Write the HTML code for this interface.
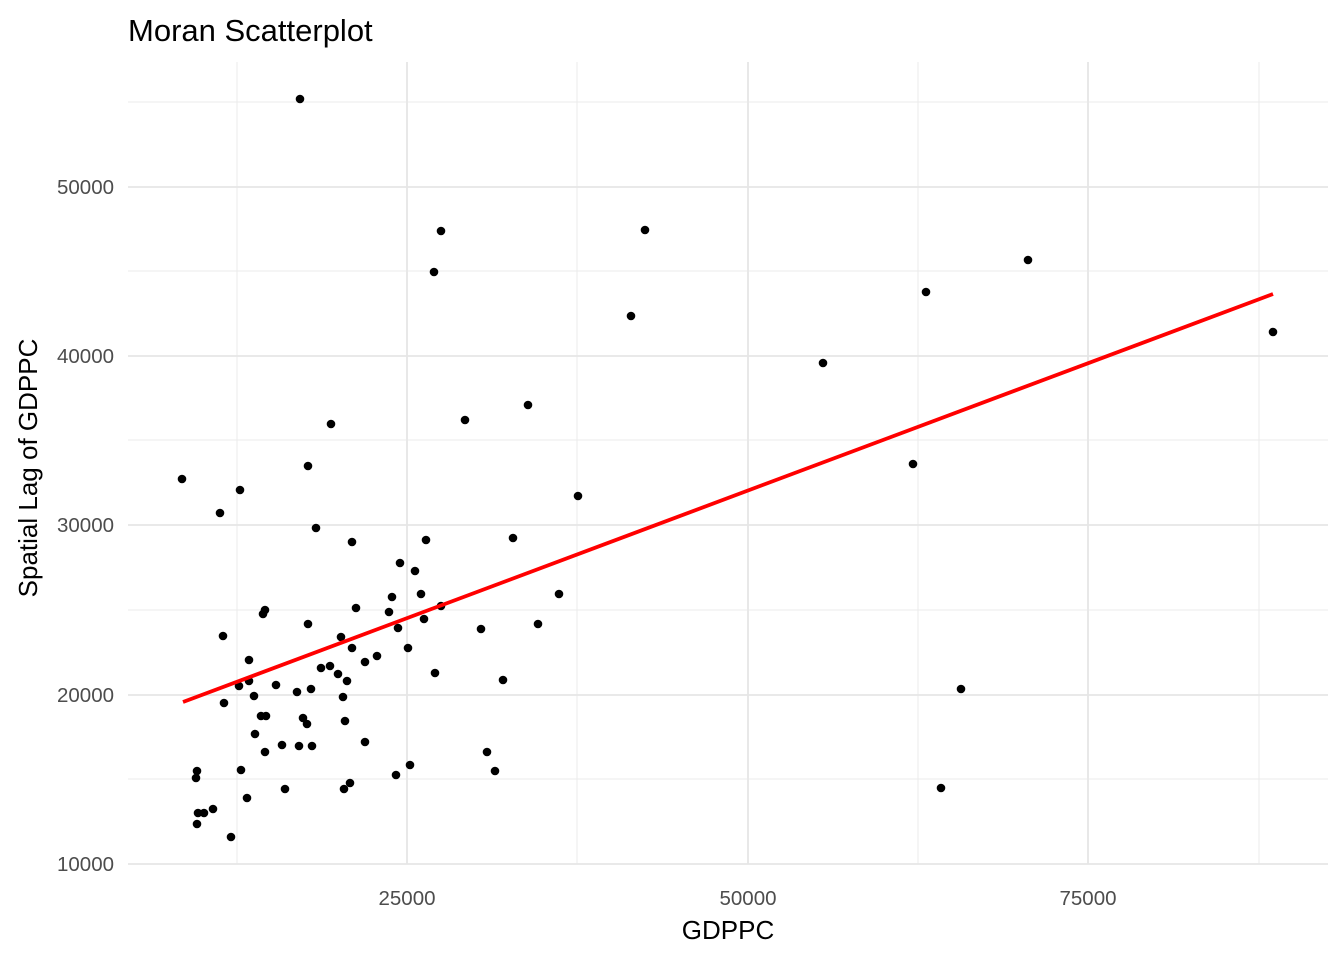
<!DOCTYPE html>
<html><head><meta charset="utf-8"><style>
body{margin:0;background:#fff}
svg{display:block;font-family:"Liberation Sans",sans-serif}
</style></head><body>
<svg width="1344" height="960" xmlns="http://www.w3.org/2000/svg">
<rect width="1344" height="960" fill="#fff"/>
<g stroke="#ebebeb" stroke-width="1">
<line x1="237" x2="237" y1="62" y2="864"/><line x1="577" x2="577" y1="62" y2="864"/>
<line x1="918" x2="918" y1="62" y2="864"/><line x1="1259" x2="1259" y1="62" y2="864"/>
<line x1="128" x2="1328" y1="102" y2="102"/><line x1="128" x2="1328" y1="271" y2="271"/>
<line x1="128" x2="1328" y1="440" y2="440"/><line x1="128" x2="1328" y1="610" y2="610"/>
<line x1="128" x2="1328" y1="779" y2="779"/>
</g>
<g stroke="#e6e6e6" stroke-width="1.8">
<line x1="407" x2="407" y1="62" y2="864"/><line x1="748" x2="748" y1="62" y2="864"/>
<line x1="1088" x2="1088" y1="62" y2="864"/>
<line x1="128" x2="1328" y1="187" y2="187"/><line x1="128" x2="1328" y1="356" y2="356"/>
<line x1="128" x2="1328" y1="525" y2="525"/><line x1="128" x2="1328" y1="695" y2="695"/>
<line x1="128" x2="1328" y1="864" y2="864"/>
</g>
<g fill="#000">
<circle cx="300" cy="99" r="4.3"/><circle cx="182" cy="479" r="4.3"/><circle cx="240" cy="490" r="4.3"/><circle cx="220" cy="513" r="4.3"/><circle cx="331" cy="424" r="4.3"/><circle cx="308" cy="466" r="4.3"/><circle cx="316" cy="528" r="4.3"/><circle cx="441" cy="231" r="4.3"/><circle cx="434" cy="272" r="4.3"/><circle cx="645" cy="230" r="4.3"/><circle cx="631" cy="316" r="4.3"/><circle cx="1028" cy="260" r="4.3"/><circle cx="926" cy="292" r="4.3"/><circle cx="1273" cy="332" r="4.3"/><circle cx="823" cy="363" r="4.3"/><circle cx="913" cy="464" r="4.3"/><circle cx="961" cy="689" r="4.3"/><circle cx="941" cy="788" r="4.3"/><circle cx="465" cy="420" r="4.3"/><circle cx="528" cy="405" r="4.3"/><circle cx="578" cy="496" r="4.3"/><circle cx="513" cy="538" r="4.3"/><circle cx="559" cy="594" r="4.3"/><circle cx="538" cy="624" r="4.3"/><circle cx="481" cy="629" r="4.3"/><circle cx="503" cy="680" r="4.3"/><circle cx="487" cy="752" r="4.3"/><circle cx="495" cy="771" r="4.3"/><circle cx="352" cy="542" r="4.3"/><circle cx="356" cy="608" r="4.3"/><circle cx="400" cy="563" r="4.3"/><circle cx="415" cy="571" r="4.3"/><circle cx="426" cy="540" r="4.3"/><circle cx="421" cy="594" r="4.3"/><circle cx="424" cy="619" r="4.3"/><circle cx="441" cy="606" r="4.3"/><circle cx="389" cy="612" r="4.3"/><circle cx="392" cy="597" r="4.3"/><circle cx="398" cy="628" r="4.3"/><circle cx="408" cy="648" r="4.3"/><circle cx="435" cy="673" r="4.3"/><circle cx="410" cy="765" r="4.3"/><circle cx="396" cy="775" r="4.3"/><circle cx="377" cy="656" r="4.3"/><circle cx="365" cy="662" r="4.3"/><circle cx="365" cy="742" r="4.3"/><circle cx="350" cy="783" r="4.3"/><circle cx="344" cy="789" r="4.3"/><circle cx="345" cy="721" r="4.3"/><circle cx="347" cy="681" r="4.3"/><circle cx="352" cy="648" r="4.3"/><circle cx="338" cy="674" r="4.3"/><circle cx="341" cy="637" r="4.3"/><circle cx="343" cy="697" r="4.3"/><circle cx="330" cy="666" r="4.3"/><circle cx="321" cy="668" r="4.3"/><circle cx="311" cy="689" r="4.3"/><circle cx="308" cy="624" r="4.3"/><circle cx="312" cy="746" r="4.3"/><circle cx="297" cy="692" r="4.3"/><circle cx="299" cy="746" r="4.3"/><circle cx="303" cy="718" r="4.3"/><circle cx="307" cy="724" r="4.3"/><circle cx="285" cy="789" r="4.3"/><circle cx="282" cy="745" r="4.3"/><circle cx="276" cy="685" r="4.3"/><circle cx="263" cy="614" r="4.3"/><circle cx="265" cy="610" r="4.3"/><circle cx="265" cy="752" r="4.3"/><circle cx="261" cy="716" r="4.3"/><circle cx="266" cy="716" r="4.3"/><circle cx="255" cy="734" r="4.3"/><circle cx="254" cy="696" r="4.3"/><circle cx="249" cy="660" r="4.3"/><circle cx="249" cy="681" r="4.3"/><circle cx="239" cy="686" r="4.3"/><circle cx="241" cy="770" r="4.3"/><circle cx="247" cy="798" r="4.3"/><circle cx="223" cy="636" r="4.3"/><circle cx="224" cy="703" r="4.3"/><circle cx="231" cy="837" r="4.3"/><circle cx="213" cy="809" r="4.3"/><circle cx="204" cy="813" r="4.3"/><circle cx="198" cy="813" r="4.3"/><circle cx="197" cy="771" r="4.3"/><circle cx="196" cy="778" r="4.3"/><circle cx="197" cy="824" r="4.3"/>
</g>
<line x1="183" y1="702" x2="1273" y2="294" stroke="#ff0000" stroke-width="3.8"/>
<g fill="#4d4d4d" font-size="20.5" text-anchor="end">
<text x="114" y="194">50000</text><text x="114" y="363">40000</text><text x="114" y="532">30000</text><text x="114" y="702">20000</text><text x="114" y="871">10000</text>
</g>
<g fill="#4d4d4d" font-size="20.5" text-anchor="middle">
<text x="407" y="905">25000</text><text x="748" y="905">50000</text><text x="1088" y="905">75000</text>
</g>
<text x="728" y="939" font-size="26" text-anchor="middle" fill="#000">GDPPC</text>
<text transform="translate(37,468) rotate(-90)" font-size="26" text-anchor="middle" fill="#000">Spatial Lag of GDPPC</text>
<text x="128" y="41" font-size="31" fill="#000">Moran Scatterplot</text>
</svg>
</body></html>
